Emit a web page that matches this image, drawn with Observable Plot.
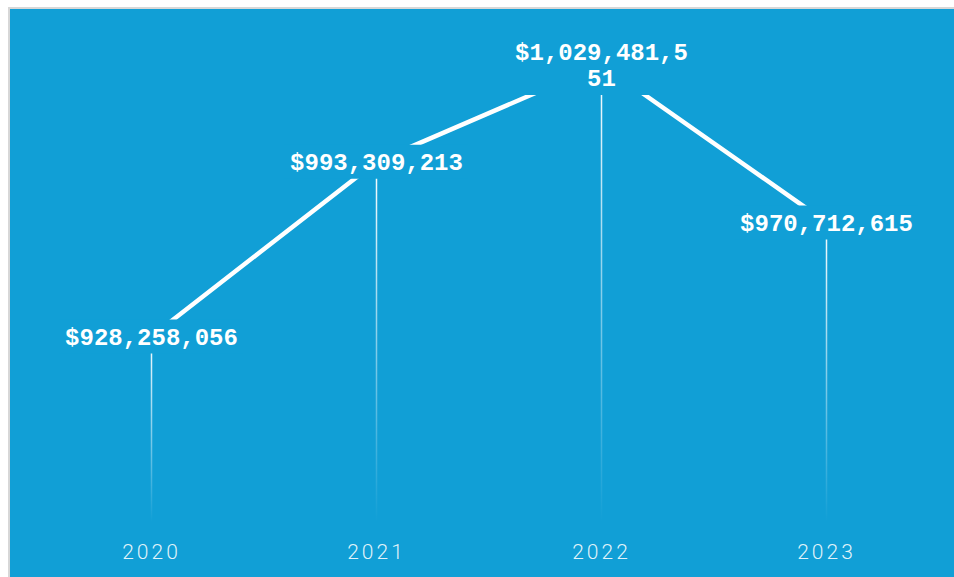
<!DOCTYPE html>
<html><head><meta charset="utf-8">
<script src="https://cdn.jsdelivr.net/npm/d3@7"></script>
<script src="https://cdn.jsdelivr.net/npm/@observablehq/plot@0.6"></script>
<style>
html, body { margin:0; padding:0; overflow:hidden; background:#fff; }
#frame { position:absolute; left:8px; top:7px; border:2px solid #d7d7d7; background:#119fd6; width:956px; height:570px; }
#frame svg { display:block; }
g[aria-label="x-axis tick label"] text, g[aria-label="x-axis"] text { letter-spacing: 3px; font-weight: 300; fill-opacity: 0.88; }
</style></head><body><div id="frame"></div>
<script>
const years = ["2020", "2021", "2022", "2023"];
const revenue = [928258056, 993309213, 1029481551, 970712615];
const yFloor = 859e6;

const data = years.map((year, i) => ({year, value: revenue[i]}));
const fmt = d3.format("$,");
const label = d => fmt(d.value).match(/.{1,12}/g).join("\n");
const lineCount = d => label(d).split("\n").length;
const BLUE = "#119fd6";

const plot = Plot.plot({
  width: 956, height: 570,
  marginTop: 55, marginBottom: 57, marginLeft: 28, marginRight: 28,
  style: {background: "transparent", color: "white", fontFamily: "Roboto, 'Liberation Sans', Arial, sans-serif", fontSize: "21px", overflow: "visible"},
  x: {type: "point", domain: years, padding: 0.5, label: null, tickSize: 0, tickPadding: 22},
  y: {domain: [yFloor, d3.max(revenue)], axis: null},
  marks: [
    Plot.ruleX(data, {x: "year", y1: "value", y2: () => yFloor, stroke: "white", strokeWidth: 1.5}),
    Plot.line(data, {x: "year", y: "value", stroke: "white", strokeWidth: 4.5}),
    Plot.ruleY(data, {x1: "year", x2: "year", y: "value", stroke: BLUE, strokeWidth: d => 34 + (lineCount(d) - 1) * 27, insetLeft: -92, insetRight: -92, strokeLinecap: "butt"}),
    Plot.text(data, {x: "year", y: "value", text: label, fill: "white", fontFamily: "'Liberation Mono', 'Courier New', monospace", fontWeight: "bold", fontSize: 24, lineHeight: 1.11})
  ]
});

document.getElementById("frame").append(plot);
const svg = d3.select(plot);
const defs = svg.insert("defs", ":first-child");
// the first rule group holds the drop lines
svg.select('g[aria-label="rule"]').selectAll("line").each(function(_, i) {
  const el = d3.select(this);
  const g = defs.append("linearGradient").attr("id", "drop" + i)
    .attr("gradientUnits", "userSpaceOnUse")
    .attr("x1", 0).attr("x2", 0).attr("y1", +el.attr("y1")).attr("y2", +el.attr("y2"));
  g.append("stop").attr("offset", 0).attr("stop-color", "white").attr("stop-opacity", 1);
  g.append("stop").attr("offset", 1).attr("stop-color", "white").attr("stop-opacity", 0);
  el.attr("stroke", `url(#drop${i})`);
});
</script>
</body></html>
